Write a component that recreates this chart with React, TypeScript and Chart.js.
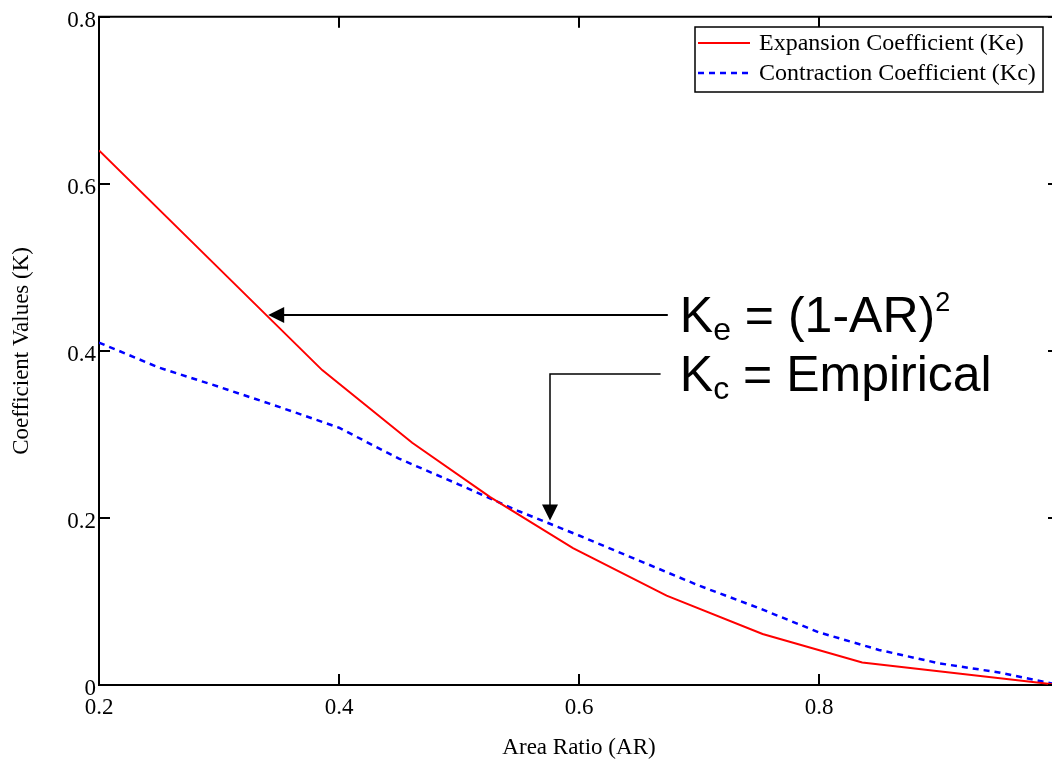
import React, { useEffect, useRef } from 'react';
import { Chart, registerables } from 'chart.js';

Chart.register(...registerables);

// ---- Data ----
const expansionAR = [0.2, 0.386, 0.461, 0.526, 0.595, 0.673, 0.753, 0.836, 1.0];
const expansionK = [0.64, 0.377, 0.29, 0.225, 0.164, 0.107, 0.061, 0.027, 0.0];

const contractionAR = [0.2, 0.25, 0.3, 0.35, 0.4, 0.45, 0.5, 0.55, 0.6, 0.65, 0.7, 0.75, 0.8, 0.85, 0.9, 0.95, 1.0];
const contractionK = [0.41, 0.38, 0.357, 0.333, 0.308, 0.271, 0.24, 0.208, 0.179, 0.149, 0.119, 0.092, 0.063, 0.042, 0.026, 0.015, 0.0];

const xTicks = [0.2, 0.4, 0.6, 0.8];
const yTicks = [0, 0.2, 0.4, 0.6, 0.8];

const seriesLabels = ['Expansion Coefficient (Ke)', 'Contraction Coefficient (Kc)'];
const xTitle = 'Area Ratio (AR)';
const yTitle = 'Coefficient Values (K)';

// annotation anchors in data coordinates
const arrowKe = { tipX: 0.341, y: 0.443, endX: 0.674 };
const arrowKc = { x: 0.576, tipY: 0.197, cornerY: 0.372, endX: 0.668 };
const labelStartX = 0.684;

const SERIF = '"Liberation Serif", "Times New Roman", Times, serif';
const SANS = '"Liberation Sans", Arial, Helvetica, sans-serif';

const framePlugin = {
  id: 'frame',
  afterDatasetsDraw(chart: any) {
    const { ctx, chartArea, scales } = chart;
    const { left, right, top, bottom } = chartArea;
    const x = scales.x;
    const y = scales.y;
    const tl = 11;
    ctx.save();
    ctx.strokeStyle = '#000';
    ctx.lineWidth = 2;
    ctx.beginPath();
    ctx.moveTo(left - 1, top);
    ctx.lineTo(right, top);
    ctx.moveTo(right, top);
    ctx.lineTo(right, bottom);
    xTicks.forEach((v) => {
      const px = Math.round(x.getPixelForValue(v));
      ctx.moveTo(px, bottom);
      ctx.lineTo(px, bottom - tl);
      ctx.moveTo(px, top);
      ctx.lineTo(px, top + tl);
    });
    yTicks.forEach((v) => {
      const py = Math.round(y.getPixelForValue(v));
      ctx.moveTo(left, py);
      ctx.lineTo(left + tl, py);
      ctx.moveTo(right, py);
      ctx.lineTo(right - tl, py);
    });
    ctx.stroke();
    ctx.restore();
  },
};

const legendPlugin = {
  id: 'boxLegend',
  afterDraw(chart: any) {
    const { ctx } = chart;
    const bx = 695, by = 27, bw = 348, bh = 65;
    ctx.save();
    ctx.fillStyle = '#fff';
    ctx.fillRect(bx, by, bw, bh);
    ctx.strokeStyle = '#000';
    ctx.lineWidth = 1.5;
    ctx.strokeRect(bx, by, bw, bh);
    chart.data.datasets.forEach((ds: any, i: number) => {
      const cy = by + 16 + i * 30;
      ctx.beginPath();
      ctx.strokeStyle = ds.borderColor;
      ctx.lineWidth = ds.borderWidth;
      ctx.setLineDash(ds.borderDash || []);
      ctx.moveTo(bx + 3, cy);
      ctx.lineTo(bx + 55, cy);
      ctx.stroke();
      ctx.setLineDash([]);
      ctx.fillStyle = '#000';
      ctx.font = `24px ${SERIF}`;
      ctx.textBaseline = 'middle';
      ctx.textAlign = 'left';
      ctx.fillText(ds.label, bx + 64, cy + 1);
    });
    ctx.restore();
  },
};

function drawParts(ctx: any, x: number, baseline: number, parts: { t: string; size: number; dy: number }[]) {
  let cx = x;
  parts.forEach((p) => {
    ctx.font = `${p.size}px ${SANS}`;
    ctx.fillText(p.t, cx, baseline + p.dy);
    cx += ctx.measureText(p.t).width;
  });
}

function arrowHead(ctx: any, tx: number, ty: number, dir: 'left' | 'down') {
  const L = 16, W = 8;
  ctx.beginPath();
  if (dir === 'left') {
    ctx.moveTo(tx, ty);
    ctx.lineTo(tx + L, ty - W);
    ctx.lineTo(tx + L, ty + W);
  } else {
    ctx.moveTo(tx, ty);
    ctx.lineTo(tx - W, ty - L);
    ctx.lineTo(tx + W, ty - L);
  }
  ctx.closePath();
  ctx.fill();
}

const annotationPlugin = {
  id: 'annot',
  afterDatasetsDraw(chart: any) {
    const { ctx, scales } = chart;
    const x = scales.x;
    const y = scales.y;
    ctx.save();
    ctx.strokeStyle = '#000';
    ctx.fillStyle = '#000';
    ctx.lineWidth = 2;
    // Ke arrow
    const t1x = x.getPixelForValue(arrowKe.tipX);
    const y1 = Math.round(y.getPixelForValue(arrowKe.y));
    const e1x = x.getPixelForValue(arrowKe.endX);
    ctx.beginPath();
    ctx.moveTo(e1x, y1);
    ctx.lineTo(t1x + 10, y1);
    ctx.stroke();
    arrowHead(ctx, t1x, y1, 'left');
    // Kc arrow
    const x2 = Math.round(x.getPixelForValue(arrowKc.x));
    const c2y = Math.round(y.getPixelForValue(arrowKc.cornerY));
    const t2y = y.getPixelForValue(arrowKc.tipY);
    const e2x = x.getPixelForValue(arrowKc.endX);
    ctx.lineWidth = 1.5;
    ctx.beginPath();
    ctx.moveTo(e2x, c2y);
    ctx.lineTo(x2, c2y);
    ctx.lineTo(x2, t2y - 10);
    ctx.stroke();
    arrowHead(ctx, x2, t2y, 'down');

    // text
    ctx.textBaseline = 'alphabetic';
    ctx.textAlign = 'left';
    const tx = x.getPixelForValue(labelStartX);
    drawParts(ctx, tx, y1 + 17, [
      { t: 'K', size: 50, dy: 0 },
      { t: 'e', size: 32, dy: 8 },
      { t: ' = (1-AR)', size: 50, dy: 0 },
      { t: '2', size: 27, dy: -21 },
    ]);
    drawParts(ctx, tx, c2y + 17, [
      { t: 'K', size: 50, dy: 0 },
      { t: 'c', size: 32, dy: 8 },
      { t: ' = Empirical', size: 50, dy: 0 },
    ]);
    ctx.restore();
  },
};

export default function App() {
  const ref = useRef<HTMLCanvasElement | null>(null);

  useEffect(() => {
    if (!ref.current) return;
    const tickFont = { family: SERIF, size: 23 };
    const chart = new Chart(ref.current, {
      type: 'scatter',
      data: {
        datasets: [
          {
            label: seriesLabels[0],
            data: expansionAR.map((v, i) => ({ x: v, y: expansionK[i] })),
            showLine: true,
            borderColor: '#ff0000',
            backgroundColor: '#ff0000',
            borderWidth: 2,
            pointRadius: 0,
            tension: 0,
          },
          {
            label: seriesLabels[1],
            data: contractionAR.map((v, i) => ({ x: v, y: contractionK[i] })),
            showLine: true,
            borderColor: '#0000ff',
            backgroundColor: '#0000ff',
            borderWidth: 2.5,
            borderDash: [6, 5],
            pointRadius: 0,
            tension: 0,
          },
        ],
      },
      options: {
        animation: false,
        responsive: false,
        maintainAspectRatio: false,
        layout: { padding: { left: 0, top: 13, right: 11, bottom: 0 } },
        plugins: { legend: { display: false }, tooltip: { enabled: false } },
        scales: {
          x: {
            type: 'linear',
            min: 0.2,
            max: 1.0,
            afterFit: (s: any) => { s.height = 89; },
            afterBuildTicks: (s: any) => { s.ticks = xTicks.map((v) => ({ value: v })); },
            grid: { display: false, drawTicks: false },
            border: { display: true, color: '#000', width: 2 },
            ticks: {
              color: '#000',
              font: tickFont,
              padding: 9,
              maxRotation: 0,
              autoSkip: false,
              callback: (v: any) => Number(v).toFixed(1),
            },
            title: {
              display: true,
              text: xTitle,
              color: '#000',
              font: { family: SERIF, size: 23 },
              padding: { top: 0, bottom: 12 },
            },
          },
          y: {
            type: 'linear',
            min: 0,
            max: 0.8,
            afterFit: (s: any) => { s.width = 99; },
            afterBuildTicks: (s: any) => { s.ticks = yTicks.map((v) => ({ value: v })); },
            grid: { display: false, drawTicks: false },
            border: { display: true, color: '#000', width: 2 },
            ticks: {
              color: '#000',
              font: tickFont,
              padding: 3,
              labelOffset: 4,
              autoSkip: false,
              callback: (v: any) => (Number(v) === 0 ? '0' : Number(v).toFixed(1)),
            },
            title: {
              display: true,
              text: yTitle,
              color: '#000',
              font: { family: SERIF, size: 23 },
              padding: { top: 8, bottom: 0 },
            },
          },
        },
      },
      plugins: [framePlugin, annotationPlugin, legendPlugin],
    } as any);
    return () => chart.destroy();
  }, []);

  return (
    <div style={{ position: 'fixed', left: 0, top: 0, width: 1070, height: 774, background: '#fff' }}>
      <canvas ref={ref} width={1070} height={774} style={{ display: 'block', width: 1070, height: 774 }} />
    </div>
  );
}
